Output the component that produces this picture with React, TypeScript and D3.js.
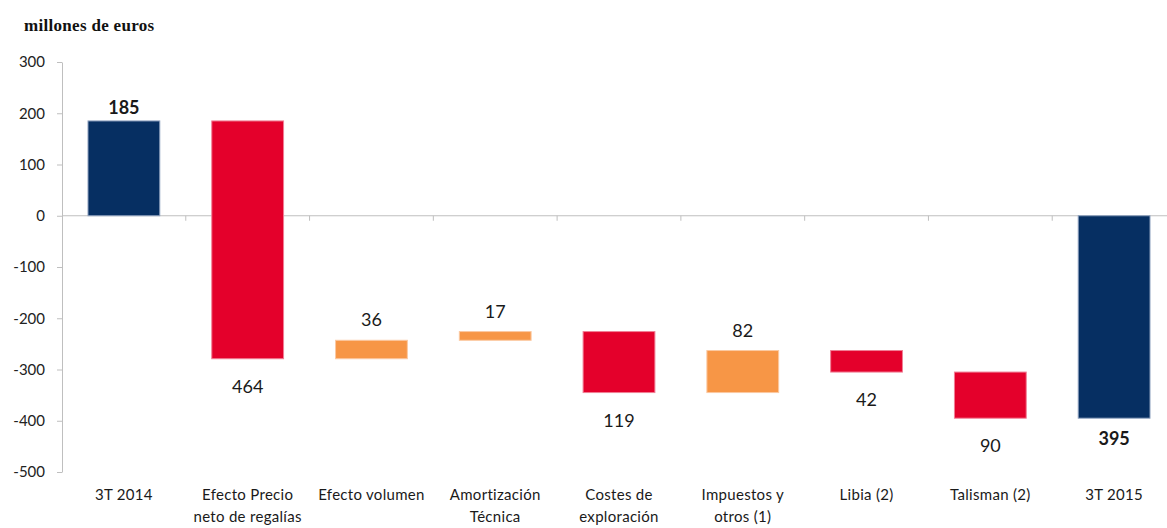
import React, { useEffect, useRef } from 'react';
import * as d3 from 'd3';

// categorias del eje x (con salto de línea)
const categories = [
  ['3T 2014'],
  ['Efecto Precio', 'neto de regalías'],
  ['Efecto volumen'],
  ['Amortización', 'Técnica'],
  ['Costes de', 'exploración'],
  ['Impuestos y', 'otros (1)'],
  ['Libia (2)'],
  ['Talisman (2)'],
  ['3T 2015'],
];
// variaciones (totales en los extremos)
const deltas = [185, -464, 36, 17, -119, 82, -42, -90, -395];
const kinds = ['total', 'neg', 'pos', 'pos', 'neg', 'pos', 'neg', 'neg', 'total'];
const yTicks = [300, 200, 100, 0, -100, -200, -300, -400, -500];

const colors: Record<string, string> = { total: '#062f62', neg: '#e4002b', pos: '#f79646' };
const strokes: Record<string, string> = { total: '#8fa2bf', neg: '#f07f95', pos: '#fbc9a2' };

export default function App() {
  const ref = useRef<SVGSVGElement>(null);

  useEffect(() => {
    const width = 1167, height = 528;
    // el área de trazado sobresale un poco por la derecha, como en el original
    const margin = { top: 62, right: -9, bottom: 56, left: 62 };
    const font = 'Lato, Calibri, "Open Sans", sans-serif';

    // tramos de la cascada
    let acc = 0;
    const bars = deltas.map((d, i) => {
      let y0: number, y1: number;
      if (kinds[i] === 'total') {
        y0 = 0; y1 = i === 0 ? d : acc;
        acc = i === 0 ? d : acc;
      } else {
        y0 = acc; y1 = acc + d; acc = y1;
      }
      return { i, y0, y1, value: Math.abs(d), kind: kinds[i] };
    });

    const x = d3.scaleBand<number>()
      .domain(d3.range(categories.length))
      .range([margin.left, width - margin.right])
      .paddingInner(0.42)
      .paddingOuter(0.21);

    const y = d3.scaleLinear()
      .domain([-500, 300])
      .range([height - margin.bottom, margin.top]);

    const svg = d3.select(ref.current);
    svg.selectAll('*').remove();

    svg.append('text')
      .attr('x', 24).attr('y', 31)
      .attr('font-family', '"Liberation Serif", "DejaVu Serif", serif')
      .attr('font-weight', 'bold')
      .attr('font-size', 17)
      .attr('letter-spacing', 0.3)
      .attr('fill', '#111')
      .text('millones de euros');

    // eje y
    const yAxis = svg.append('g')
      .attr('transform', `translate(${margin.left},0)`)
      .call(d3.axisLeft(y).tickValues(yTicks).tickFormat(d => String(d)).tickSize(5).tickPadding(12).tickSizeOuter(0));
    yAxis.select('.domain').attr('stroke', '#bfbfbf');
    yAxis.selectAll('.tick line').attr('stroke', '#bfbfbf');
    yAxis.selectAll('.tick text')
      .attr('font-family', font).attr('font-size', 15).attr('fill', '#222');

    // linea de cero y marcas del eje x
    const step = x.step();
    const zero = svg.append('g').attr('transform', `translate(0,${y(0)})`);
    zero.append('line')
      .attr('x1', margin.left).attr('x2', width)
      .attr('stroke', '#bfbfbf');
    zero.selectAll('line.tk')
      .data(d3.range(1, categories.length))
      .enter().append('line')
      .attr('class', 'tk')
      .attr('x1', d => margin.left + d * step).attr('x2', d => margin.left + d * step)
      .attr('y1', 0).attr('y2', 5)
      .attr('stroke', '#bfbfbf');

    svg.append('g')
      .selectAll('rect').data(bars).enter().append('rect')
      .attr('x', d => x(d.i)!)
      .attr('width', x.bandwidth())
      .attr('y', d => y(Math.max(d.y0, d.y1)))
      .attr('height', d => Math.abs(y(d.y0) - y(d.y1)))
      .attr('fill', d => colors[d.kind])
      .attr('stroke', d => strokes[d.kind])
      .attr('stroke-width', 1);

    // etiquetas de valor
    svg.append('g')
      .selectAll('text').data(bars).enter().append('text')
      .attr('x', d => x(d.i)! + x.bandwidth() / 2)
      .attr('y', d => {
        if (d.kind === 'pos') return y(Math.max(d.y0, d.y1)) - 14;
        if (d.kind === 'total' && d.y1 > 0) return y(d.y1) - 7;
        if (d.kind === 'total') return y(d.y1) + 27;
        return y(Math.min(d.y0, d.y1)) + 34;
      })
      .attr('text-anchor', 'middle')
      .attr('font-family', font)
      .attr('font-size', 18)
      .attr('font-weight', d => (d.kind === 'total' ? 'bold' : 'normal'))
      .attr('fill', '#1a1a1a')
      .text(d => d.value);

    // categorias
    const cat = svg.append('g')
      .selectAll('text').data(categories).enter().append('text')
      .attr('x', (_, i) => x(i)! + x.bandwidth() / 2)
      .attr('y', 500)
      .attr('text-anchor', 'middle')
      .attr('font-family', font)
      .attr('font-size', 15)
      .attr('letter-spacing', 0.3)
      .attr('fill', '#1a1a1a');
    cat.selectAll('tspan').data(d => d).enter().append('tspan')
      .attr('x', function () { return (this.parentNode as SVGTextElement).getAttribute('x'); })
      .attr('dy', (_, j) => (j === 0 ? 0 : 22))
      .text(d => d);
  }, []);

  return (
    <svg ref={ref} width={1167} height={528}
      style={{ position: 'absolute', left: 0, top: 0, display: 'block', background: '#fff' }} />
  );
}
